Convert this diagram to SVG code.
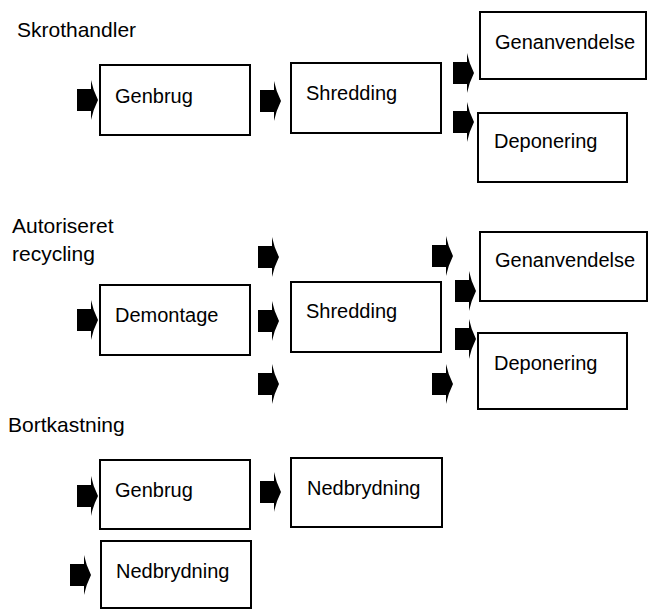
<svg xmlns="http://www.w3.org/2000/svg" xmlns:xlink="http://www.w3.org/1999/xlink" width="648" height="610" viewBox="0 0 648 610">
<style>
.box{fill:#fff;stroke:#000;stroke-width:2}
.lbl{font-family:"Liberation Sans",Arial,sans-serif;font-size:20px;fill:#000}
.hdr{font-family:"Liberation Sans",Arial,sans-serif;font-size:21px;fill:#000}
.arr{fill:#000}
</style>
<defs>
<g id="arrow">
<rect x="0" y="-11" width="15" height="22"/>
<path d="M14,-20 Q16,-10 21,0 Q16,10 14,20 Z"/>
</g>
</defs>
<rect width="648" height="610" fill="#fff"/>
<text class="hdr" x="17" y="37">Skrothandler</text>
<text class="hdr" x="12" y="233">Autoriseret</text>
<text class="hdr" x="12" y="261">recycling</text>
<text class="hdr" x="8" y="432">Bortkastning</text>

<g id="n1"><rect class="box" x="100" y="65" width="150" height="70"/><text class="lbl" x="115" y="103">Genbrug</text></g>
<g id="n2"><rect class="box" x="291" y="63" width="150" height="70"/><text class="lbl" x="306" y="100">Shredding</text></g>
<g id="n3"><rect class="box" x="480" y="12" width="166" height="67"/><text class="lbl" x="495" y="49">Genanvendelse</text></g>
<g id="n4"><rect class="box" x="478" y="113" width="149" height="69"/><text class="lbl" x="494" y="148">Deponering</text></g>

<g id="n5"><rect class="box" x="100" y="285" width="150" height="70"/><text class="lbl" x="115" y="322">Demontage</text></g>
<g id="n6"><rect class="box" x="291" y="282" width="150" height="70"/><text class="lbl" x="306" y="318">Shredding</text></g>
<g id="n7"><rect class="box" x="480" y="232" width="167" height="69"/><text class="lbl" x="495" y="267">Genanvendelse</text></g>
<g id="n8"><rect class="box" x="478" y="333" width="149" height="76"/><text class="lbl" x="494" y="370">Deponering</text></g>

<g id="n9"><rect class="box" x="100" y="460" width="150" height="69"/><text class="lbl" x="115" y="497">Genbrug</text></g>
<g id="n10"><rect class="box" x="291" y="458" width="151" height="69"/><text class="lbl" x="307" y="495">Nedbrydning</text></g>
<g id="n11"><rect class="box" x="101" y="541" width="150" height="67"/><text class="lbl" x="116" y="578">Nedbrydning</text></g>

<g id="connectors" class="arr">
<use xlink:href="#arrow" x="77" y="100"/>
<use xlink:href="#arrow" x="260" y="101"/>
<use xlink:href="#arrow" x="453" y="73"/>
<use xlink:href="#arrow" x="453" y="122"/>
<use xlink:href="#arrow" x="77" y="320"/>
<use xlink:href="#arrow" x="258" y="257"/>
<use xlink:href="#arrow" x="258" y="321"/>
<use xlink:href="#arrow" x="258" y="384"/>
<use xlink:href="#arrow" x="432" y="256"/>
<use xlink:href="#arrow" x="455" y="291"/>
<use xlink:href="#arrow" x="455" y="339"/>
<use xlink:href="#arrow" x="432" y="384"/>
<use xlink:href="#arrow" x="77" y="496"/>
<use xlink:href="#arrow" x="260" y="492"/>
<use xlink:href="#arrow" x="70" y="575"/>
</g>
</svg>
